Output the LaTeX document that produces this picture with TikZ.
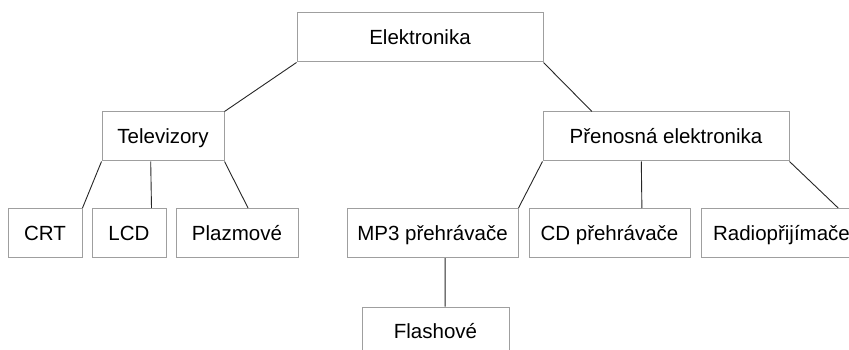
\documentclass[tikz,border=0pt]{standalone}
\usepackage{fontspec}
\setmainfont{Liberation Sans}
\usetikzlibrary{calc}

\begin{document}
\begin{tikzpicture}[x=1pt, y=-1pt,
  box/.style={draw=gray!75, line width=1pt, inner sep=0pt, minimum height=49pt,
    text height=14.6pt, text depth=0pt, font=\fontsize{20.5}{24}\selectfont},
  edge/.style={line width=0.9pt, black!85}]
  \clip (0,0) rectangle (849,350);

  % Top level
  \node[box, minimum width=246pt] (elek) at (420,37.5) {Elektronika};

  % Second level
  \node[box, minimum width=122pt] (tv) at (163,136.5) {Televizory};
  \node[box, minimum width=246pt] (pe) at (666,136.5) {Přenosná elektronika};

  % Third level
  \node[box, minimum width=74pt] (crt) at (45,233) {CRT};
  \node[box, minimum width=74pt] (lcd) at (129,233) {LCD};
  \node[box, minimum width=122pt] (plaz) at (237,233) {Plazmové};
  \node[box, minimum width=171pt] (mp3) at (432.5,233) {MP3 přehrávače};
  \node[box, minimum width=161pt] (cd) at (609.5,233) {CD přehrávače};
  \node[box, minimum width=161pt] (radio) at (781.5,233) {Radiopřijímače};

  % Fourth level
  \node[box, minimum width=147pt] (flash) at (435.5,331.5) {Flashové};

  % Connectors
  \draw[edge] (elek.south west) -- (tv.north east);
  \draw[edge] (elek.south east) -- ($(pe.north west)!0.2!(pe.north east)$);
  \draw[edge] (tv.south west) -- (crt.north east);
  \draw[edge] ($(tv.south west)!0.4!(tv.south east)$) -- ($(lcd.north west)!0.8!(lcd.north east)$);
  \draw[edge] (tv.south east) -- ($(plaz.north west)!0.59!(plaz.north east)$);
  \draw[edge] (pe.south west) -- (mp3.north east);
  \draw[edge] ($(pe.south west)!0.4!(pe.south east)$) -- ($(cd.north west)!0.7!(cd.north east)$);
  \draw[edge] (pe.south east) -- ($(radio.north west)!0.85!(radio.north east)$);
  \draw[edge] ($(mp3.south west)!0.573!(mp3.south east)$) -- ($(flash.north west)!0.565!(flash.north east)$);
\end{tikzpicture}
\end{document}
